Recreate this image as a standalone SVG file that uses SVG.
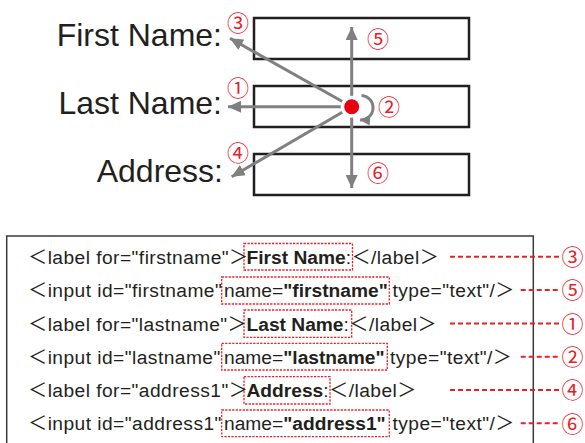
<svg xmlns="http://www.w3.org/2000/svg" width="585" height="443" viewBox="0 0 585 443">
  <style>
    .field { fill: #ffffff; stroke: #231f20; stroke-width: 2.5; }
    .lbl { font-family: "Liberation Sans", Arial, sans-serif; font-size: 32px; fill: #231f20; text-anchor: end; }
    .num { font-family: "Noto Sans CJK JP", "DejaVu Sans", sans-serif; font-size: 22px; fill: #e8202a; text-anchor: middle; }
    .arrow { fill: none; stroke: #808080; stroke-width: 3; }
    .code { font-family: "Liberation Sans", "Noto Sans CJK JP", Arial, sans-serif; font-size: 19.2px; fill: #231f20; }
    .sp { letter-spacing: 0.45px; }
    .b { font-weight: bold; }
    .hl { fill: none; stroke: #e8202a; stroke-width: 1.3; stroke-dasharray: 2.2 1.3; }
    .lead { fill: none; stroke: #e8202a; stroke-width: 2; stroke-dasharray: 5 3; }
    .frame { fill: #ffffff; stroke: #3a3a3a; stroke-width: 1.5; }
  </style>
  <defs>
    <marker id="head" markerUnits="userSpaceOnUse" markerWidth="14" markerHeight="12" refX="13" refY="6" orient="auto">
      <path d="M0,0 L13,6 L0,12 Z" fill="#808080"/>
    </marker>
    <marker id="headSmall" markerUnits="userSpaceOnUse" markerWidth="11" markerHeight="10" refX="10" refY="5" orient="auto">
      <path d="M0,0 L10,5 L0,10 Z" fill="#808080"/>
    </marker>
  </defs>

  <!-- form fields -->
  <g id="field-firstname"><rect class="field" x="254" y="18" width="215" height="41"/></g>
  <g id="field-lastname"><rect class="field" x="254" y="86" width="215" height="41"/></g>
  <g id="field-address"><rect class="field" x="254" y="154" width="215" height="41"/></g>

  <!-- form labels -->
  <g id="label-firstname"><text class="lbl" x="222" y="46">First Name:</text></g>
  <g id="label-lastname"><text class="lbl" x="222" y="114">Last Name:</text></g>
  <g id="label-address"><text class="lbl" x="223" y="182">Address:</text></g>

  <!-- navigation arrows from the focus point -->
  <g id="connectors">
    <path class="arrow" d="M351.7,106.7 L351.7,27" marker-end="url(#head)"/>
    <path class="arrow" d="M351.7,106.7 L351.7,188" marker-end="url(#head)"/>
    <path class="arrow" d="M351.7,106.7 L228,106.7" marker-end="url(#head)"/>
    <path class="arrow" d="M351.7,106.7 L230,38.3" marker-end="url(#head)"/>
    <path class="arrow" d="M351.7,106.7 L231.7,176.7" marker-end="url(#head)"/>
    <path class="arrow" d="M361.5,95.5 A11.5,11.5 0 0 1 360,120" marker-end="url(#headSmall)"/>
  </g>

  <!-- focus point -->
  <g id="focus">
    <circle cx="351.7" cy="106.7" r="11" fill="#ffffff"/>
    <circle cx="351.7" cy="106.7" r="7.5" fill="#e60012"/>
  </g>

  <!-- step numbers around the form -->
  <g id="steps-form">
    <text class="num" x="238" y="30.5">③</text>
    <text class="num" x="238" y="95.5">①</text>
    <text class="num" x="238" y="161">④</text>
    <text class="num" x="378" y="47">⑤</text>
    <text class="num" x="389" y="114.5">②</text>
    <text class="num" x="378" y="180.5">⑥</text>
  </g>

  <!-- markup listing -->
  <g id="code">
    <rect class="frame" x="6.7" y="236" width="526.6" height="220"/>

    <rect class="hl" x="244" y="243.5" width="108.5" height="26.5"/>
    <text class="code" y="264"><tspan x="28" class="sp">＜label for="firstname"＞</tspan><tspan x="246.5" class="b">First Name</tspan><tspan class="sp">:＜/label＞</tspan></text>

    <rect class="hl" x="221.7" y="277" width="167.6" height="27"/>
    <text class="code" y="297"><tspan x="28" class="sp">＜input id="firstname"</tspan><tspan x="224">name=</tspan><tspan class="b">"firstname"</tspan><tspan x="392.5" class="sp">type="text"/＞</tspan></text>

    <rect class="hl" x="244" y="310" width="107.7" height="27.3"/>
    <text class="code" y="330.5"><tspan x="28" class="sp">＜label for="lastname"＞</tspan><tspan x="246.5" class="b">Last Name</tspan><tspan class="sp">:＜/label＞</tspan></text>

    <rect class="hl" x="221.7" y="343.3" width="165.6" height="26.7"/>
    <text class="code" y="363.5"><tspan x="28" class="sp">＜input id="lastname"</tspan><tspan x="224">name=</tspan><tspan class="b">"lastname"</tspan><tspan x="390" class="sp">type="text"/＞</tspan></text>

    <rect class="hl" x="244" y="376.7" width="86" height="27.3"/>
    <text class="code" y="397"><tspan x="28" class="sp">＜label for="address1"＞</tspan><tspan x="246.5" class="b">Address</tspan><tspan class="sp">:＜/label＞</tspan></text>

    <rect class="hl" x="221.7" y="410" width="167.6" height="26.7"/>
    <text class="code" y="430"><tspan x="28" class="sp">＜input id="address1"</tspan><tspan x="224">name=</tspan><tspan class="b">"address1"</tspan><tspan x="392.5" class="sp">type="text"/＞</tspan></text>
  </g>

  <!-- leaders to step numbers -->
  <g id="leaders">
    <path class="lead" d="M450,256.7 H559"/>
    <path class="lead" d="M520.7,290 H559"/>
    <path class="lead" d="M450,323.5 H559"/>
    <path class="lead" d="M520.7,356.7 H559"/>
    <path class="lead" d="M450,390 H559"/>
    <path class="lead" d="M520.7,423.3 H559"/>
    <text class="num" x="572.5" y="265">③</text>
    <text class="num" x="572.5" y="298.3">⑤</text>
    <text class="num" x="572.5" y="331.8">①</text>
    <text class="num" x="572.5" y="365">②</text>
    <text class="num" x="572.5" y="398.3">④</text>
    <text class="num" x="572.5" y="431.6">⑥</text>
  </g>
</svg>
